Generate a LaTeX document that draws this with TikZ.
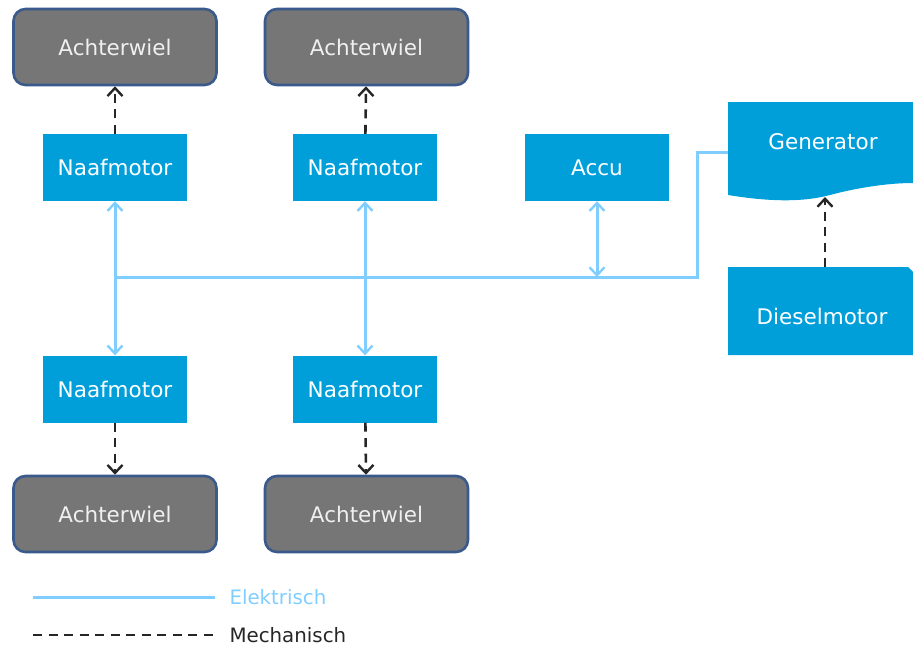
\documentclass[tikz,border=0pt]{standalone}
\usepackage{fontspec}
\setmainfont{DejaVu Sans}
\usetikzlibrary{arrows.meta,calc}
\definecolor{motorblue}{RGB}{0,159,218}
\definecolor{wheelgray}{RGB}{118,118,118}
\definecolor{wheeledge}{RGB}{58,90,140}
\definecolor{elecblue}{RGB}{128,206,255}
\begin{document}
\begin{tikzpicture}[x=1pt,y=-1pt,
    font=\fontsize{21.5}{25}\selectfont,
    motor/.style={fill=motorblue, text=white, minimum width=144pt, minimum height=67pt, inner sep=0pt},
    wheel/.style={fill=wheelgray, draw=wheeledge, line width=2.6pt, rounded corners=12pt, text=white!94!black, minimum width=203pt, minimum height=76pt, inner sep=0pt},
    elec/.style={draw=elecblue, line width=3pt},
    mech/.style={draw=black!85, line width=2.6pt, dash pattern=on 9pt off 6.5pt},
    tip/.style={-{Straight Barb[length=8pt,width=15pt,line width=2.4pt]}},
    dtip/.style={{Straight Barb[length=8pt,width=15pt,line width=2.4pt]}-{Straight Barb[length=8pt,width=15pt,line width=2.4pt]}},
    legend/.style={anchor=west, font=\fontsize{19.8}{23}\selectfont}]
  \useasboundingbox (0,0) rectangle (913,649);

  % Wheels
  \node[wheel] (aw1) at (115,47) {Achterwiel};
  \node[wheel] (aw2) at (366.5,47) {Achterwiel};
  \node[wheel] (aw3) at (115,514) {Achterwiel};
  \node[wheel] (aw4) at (366.5,514) {Achterwiel};

  % Hub motors and battery
  \node[motor] (nm1) at (115,167.5) {Naafmotor};
  \node[motor] (nm2) at (365,167.5) {Naafmotor};
  \node[motor] (nm3) at (115,389) {Naafmotor};
  \node[motor] (nm4) at (365,389) {Naafmotor};
  \node[motor] (accu) at (597,167.5) {Accu};

  % Generator (wavy bottom) and diesel engine (cut corner)
  \fill[motorblue] (728,102) -- (913,102) -- (913,183)
    .. controls (890,183) and (860,187) .. (830,195)
    .. controls (800,203) and (765,201) .. (728,195) -- cycle;
  \node[text=white] (gen) at (823,142) {Generator};
  \fill[motorblue] (728,267) -- (908,267) -- (913,272) -- (913,355) -- (728,355) -- cycle;
  \node[text=white] (diesel) at (822,316) {Dieselmotor};
  \coordinate (genin) at (728,152);
  \coordinate (genout) at (825,197);
  \coordinate (dieselin) at (825,267);

  % Electrical bus
  \coordinate (busL) at (115,277);
  \coordinate (busR) at (697,277);
  \draw[elec] (busL) -- (busR) |- (genin);
  \draw[elec,dtip] (nm1) -- (nm3);
  \draw[elec,dtip] (nm2) -- (nm4);
  \draw[elec,dtip] (accu) -- (accu |- busL);

  % Mechanical links
  \draw[mech,tip] (nm1) -- (aw1);
  \draw[mech,tip] (nm2) -- (aw2);
  \draw[mech,tip] (nm3) -- (aw3);
  \draw[mech,tip] (nm4) -- (aw4);
  \draw[mech,tip] (dieselin) -- (genout);

  % Legend
  \coordinate (le1) at (33,597);
  \coordinate (le2) at (33,635);
  \node[legend, text=elecblue] (lelec) at (226,597) {Elektrisch};
  \node[legend, text=black!85] (lmech) at (226,635) {Mechanisch};
  \draw[elec, shorten >=11pt] (le1) -- (lelec.west);
  \draw[mech, shorten >=11pt] (le2) -- (lmech.west);
\end{tikzpicture}
\end{document}
